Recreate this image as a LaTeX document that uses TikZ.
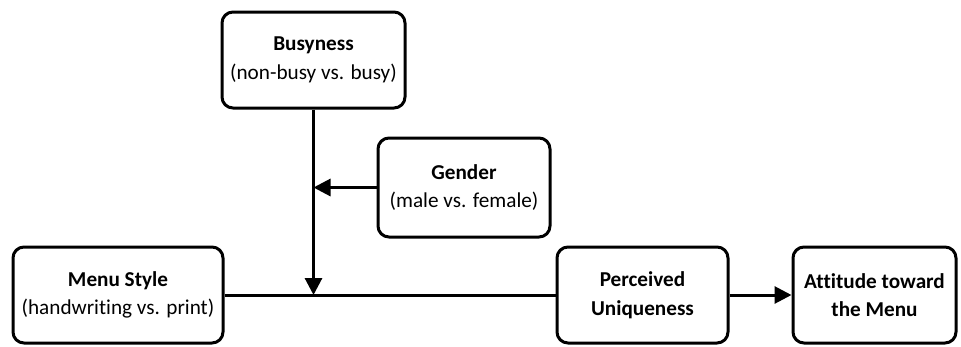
\documentclass[tikz,border=0pt]{standalone}
\usepackage{fontspec}
\setmainfont[Ligatures=NoCommon]{Carlito}
\usetikzlibrary{arrows.meta}

\tikzset{
    varbox/.style={draw, line width=3pt, rounded corners=11pt, align=center,
        inner sep=0pt, font=\fontsize{21.2}{28.5}\selectfont},
    link/.style={line width=3pt},
    tip/.style={-{Triangle[length=17pt,width=17pt]}}
}

\begin{document}
\begin{tikzpicture}[x=1pt, y=-1pt]
    \useasboundingbox (0,0) rectangle (961,346);
    \node[varbox, minimum width=183pt, minimum height=96pt] (busy) at (313.5,60) {\textbf{Busyness}\\(non-busy vs. busy)};
    \node[varbox, minimum width=172pt, minimum height=99pt] (gender) at (464,187.5) {\textbf{Gender}\\(male vs. female)};
    \node[varbox, minimum width=210pt, minimum height=96pt] (menu) at (118,295) {\textbf{Menu Style}\\(handwriting vs. print)};
    \node[varbox, minimum width=171pt, minimum height=96pt] (perc) at (642.5,295) {\textbf{Perceived}\\\textbf{Uniqueness}};
    \node[varbox, minimum width=163pt, minimum height=96pt] (att) at (874.5,295) {\textbf{Attitude toward}\\\textbf{the Menu}};
	% paths
    \draw[link] (menu) -- (perc);
    \draw[link, tip] (busy) -- (busy.south |- menu.east);
    \draw[link, tip] (gender) -- (busy.south |- gender.west);
    \draw[link, tip] (perc) -- (att);
\end{tikzpicture}
\end{document}
